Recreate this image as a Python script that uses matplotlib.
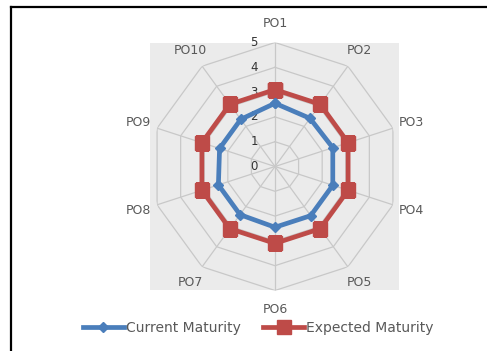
import numpy as np
from matplotlib import pyplot as plt
from matplotlib.lines import Line2D
from matplotlib.patches import Rectangle
from matplotlib import transforms

categories = ["PO1", "PO2", "PO3", "PO4", "PO5", "PO6", "PO7", "PO8", "PO9", "PO10"]
current = [2.55, 2.4, 2.45, 2.45, 2.45, 2.45, 2.4, 2.4, 2.35, 2.35]
expected = [3.1, 3.1, 3.1, 3.1, 3.1, 3.1, 3.1, 3.1, 3.1, 3.1]
rticks = [0, 1, 2, 3, 4, 5]

plt.rcParams['font.family'] = ['DejaVu Sans']
txt = '#595959'

fig = plt.figure(figsize=(4.87, 3.51), dpi=100)

# grey plot area + outer frame (top and left edges visible)
fig.add_artist(Rectangle((150 / 487, 61 / 351), 249 / 487, 247 / 351,
                         transform=fig.transFigure, facecolor='#ebebeb',
                         edgecolor='none', zorder=-2))
fig.add_artist(Line2D([11 / 487, 1], [1 - 7 / 351, 1 - 7 / 351], color='black', lw=1.6))
fig.add_artist(Line2D([11 / 487, 11 / 487], [0, 1 - 7 / 351], color='black', lw=1.6))

ax = fig.add_axes([151 / 487, 60.5 / 351, 248 / 487, 248 / 351], projection='polar')
ax.set_facecolor('none')
ax.set_theta_zero_location('N')
ax.set_theta_direction(-1)
ax.set_ylim(0, 5)
ax.grid(False)
ax.spines['polar'].set_visible(False)
ax.set_yticks([])

angles = np.linspace(0, 2 * np.pi, len(categories), endpoint=False)
closed = np.append(angles, angles[0])

# decagon gridlines and spokes
for r in rticks[1:]:
    ax.plot(closed, [r] * len(closed), color='#c8c8c8', lw=0.9, zorder=1)
for a in angles:
    ax.plot([a, a], [0, 5], color='#c8c8c8', lw=0.9, zorder=1)

ax.set_xticks(angles)
ax.set_xticklabels(categories, fontsize=9, color=txt)
ax.tick_params(axis='x', pad=7, length=0)

off = transforms.offset_copy(ax.transData, fig=fig, x=-21, y=0, units='dots')
for r in rticks:
    ax.text(0, r, str(r), transform=off, ha='center', va='center', fontsize=8.5, color='#333333')

ax.plot(closed, current + current[:1], color='#4a7ebb', lw=3.4, marker='D', markersize=5.5,
        label='Current Maturity', zorder=4)
ax.plot(closed, expected + expected[:1], color='#be4b48', lw=3.4, marker='s', markersize=9.5,
        label='Expected Maturity', zorder=3)

fig.legend(loc='center', bbox_to_anchor=(258 / 487, 1 - 328 / 351), ncol=2, frameon=False,
           fontsize=10, handlelength=3.0, handletextpad=0.1, columnspacing=1.6,
           labelcolor=txt)

plt.savefig('out.png', dpi=100)
